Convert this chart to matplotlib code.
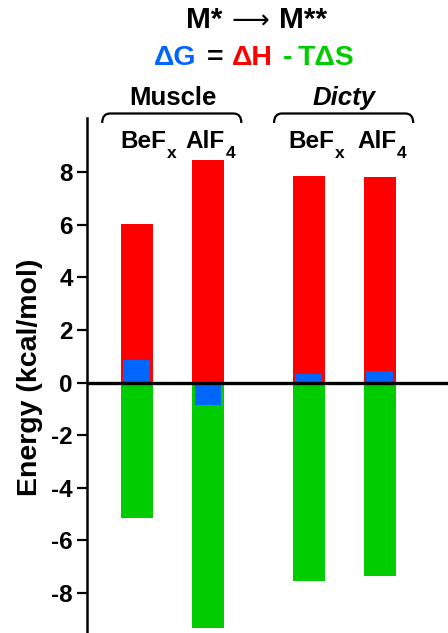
import matplotlib
matplotlib.use("Agg")
import matplotlib.pyplot as plt
from matplotlib.path import Path
from matplotlib.patches import PathPatch
import matplotlib.transforms as mtransforms

plt.rcParams['font.family'] = ['Liberation Sans', 'DejaVu Sans']
plt.rcParams['font.weight'] = 'bold'

# ---- data ----
groups = ["Muscle", "Dicty"]
cat_main = ["BeF", "AlF", "BeF", "AlF"]
cat_sub = ["x", "4", "x", "4"]
dH = [6.02, 8.46, 7.85, 7.81]          # ΔH (red)
mTdS = [-5.14, -9.32, -7.54, -7.35]    # -TΔS (green)
dG = [0.86, -0.87, 0.34, 0.44]         # ΔG (blue)
yticks = [-8, -6, -4, -2, 0, 2, 4, 6, 8]

RED = "#FF0000"
GREEN = "#00CC00"
BLUE = "#0066FF"

W, H = 448, 633
fig = plt.figure(figsize=(W / 100, H / 100), dpi=100)
ax = fig.add_axes([87 / W, 0.0, 1 - 87 / W, (H - 118) / H])

xpos = [0, 1, 2.42, 3.42]
ax.bar(xpos, dH, width=0.45, color=RED, zorder=2)
ax.bar(xpos, mTdS, width=0.45, color=GREEN, zorder=2)
ax.bar(xpos, dG, width=0.38, color=BLUE, zorder=3)
ax.axhline(0, color='black', lw=2.4, zorder=5)

ax.set_xlim(-0.704, 4.38)
ax.set_ylim(-9.52, 10.06)
ax.set_yticks(yticks)
ax.set_yticklabels([str(v) for v in yticks])
ax.set_xticks([])
for s in ['top', 'right', 'bottom']:
    ax.spines[s].set_visible(False)
ax.spines['left'].set_linewidth(1.8)
ax.tick_params(axis='y', direction='out', length=7.2, width=1.6, pad=3,
               labelsize=17.5)
for lab in ax.get_yticklabels():
    lab.set_fontweight('bold')
ax.set_ylabel("Energy (kcal/mol)", fontsize=20.5, fontweight='bold')
ax.yaxis.set_label_coords(-0.122, 0.497)

def fy(py):
    return 1 - py / H

def fx(px):
    return px / W

# title line 1
fig.text(fx(222), fy(28.3), "M*", ha='right', va='baseline', fontsize=21.5, fontweight='bold')
fig.text(fx(250), fy(28.3), "\u27F6", ha='center', va='baseline', fontsize=19,
         fontweight='normal', family=['DejaVu Sans'])
fig.text(fx(279), fy(28.3), "M**", ha='left', va='baseline', fontsize=21.5, fontweight='bold')

# title line 2
parts = [("\u0394G", BLUE, 154), ("=", 'black', 207), ("\u0394H", RED, 231.5),
         ("-", GREEN, 283), ("T\u0394S", GREEN, 298)]
for txt, col, px in parts:
    fig.text(fx(px), fy(65), txt, ha='left', va='baseline', fontsize=20.5,
             fontweight='bold', color=col)

# group labels and braces
blend = mtransforms.blended_transform_factory(ax.transData, fig.transFigure)
bl_ax = mtransforms.blended_transform_factory(ax.transData, ax.transAxes)
group_idx = [(0, 1), (2, 3)]
for g, (i, j), style in zip(groups, group_idx, ['normal', 'italic']):
    xm = (xpos[i] + xpos[j]) / 2
    fig.text(xm, fy(105), g, transform=blend, ha='center', va='baseline',
             fontsize=18.5, fontweight='bold', style=style)
    x0 = xpos[i] - 0.49
    x1 = xpos[j] + 0.47
    yb = (H - 123) / (H - 118)
    yt = (H - 113.5) / (H - 118)
    dx = 0.11
    verts = [(x0, yb), (x0, yt), (x0 + dx, yt),
             (x1 - dx, yt), (x1, yt), (x1, yb)]
    codes = [Path.MOVETO, Path.CURVE3, Path.CURVE3,
             Path.LINETO, Path.CURVE3, Path.CURVE3]
    ax.add_patch(PathPatch(Path(verts, codes), transform=bl_ax, fill=False,
                           lw=1.6, edgecolor='black', clip_on=False,
                           capstyle='butt'))

# category labels with subscripts
label_off = [-0.23, -0.315, -0.29, -0.32]
for x, m, sb, o in zip(xpos, cat_main, cat_sub, label_off):
    t = ax.text(x + o, fy(148.3), m, transform=blend, ha='left', va='baseline',
                fontsize=17.5, fontweight='bold')
    ax.annotate(sb, xy=(1, 0), xycoords=t, xytext=(0.3, -5.5),
                textcoords='offset points', ha='left', va='bottom',
                fontsize=12.5, fontweight='bold', annotation_clip=False)

fig.savefig("out.png", dpi=100)
